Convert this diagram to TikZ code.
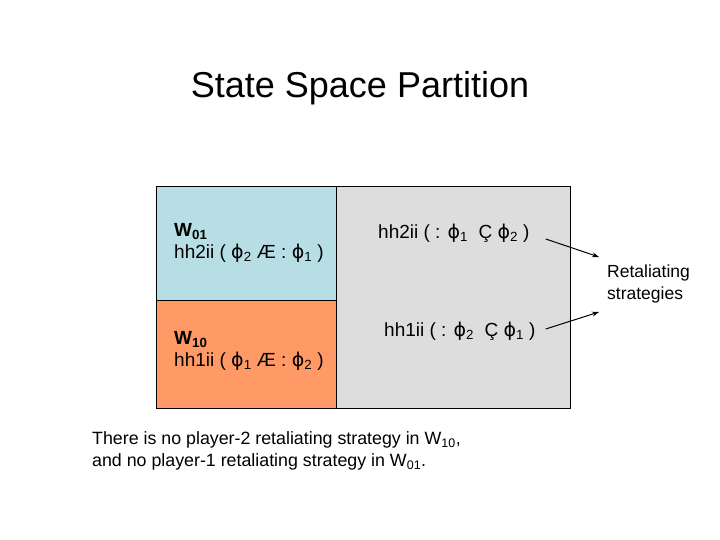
\documentclass[tikz,border=0pt]{standalone}
\usepackage{fontspec}
\setmainfont{Liberation Sans}
\newfontfamily\phifont{DejaVu Sans}
\usepackage{xcolor}
\usetikzlibrary{arrows.meta,positioning}
\definecolor{cellblue}{HTML}{B7DEE4}
\definecolor{cellorange}{HTML}{FF9966}
\definecolor{cellgray}{HTML}{DDDDDD}
\newcommand{\ph}[1]{{\phifont ϕ}\textsubscript{#1}}

\begin{document}
\begin{tikzpicture}[x=1pt,y=-1pt,
  cell/.style={draw, line width=0.8pt, anchor=north west, inner sep=0pt},
  label/.style={anchor=west, align=left, inner sep=0pt, font=\fontsize{19}{22}\selectfont},
  arrow/.style={-{Stealth[length=7pt,width=5pt]}, line width=1pt}
]
\useasboundingbox (0,0) rectangle (720,540);

\node (title) at (360,88) {\fontsize{36}{40}\selectfont State Space Partition};

% the partition
\node[cell, fill=cellgray, minimum width=234pt, minimum height=222pt] (right) at (336,186) {};
\node[cell, fill=cellblue, minimum width=180pt, minimum height=114pt] (w01) at (156,186) {};
\node[cell, fill=cellorange, minimum width=180pt, minimum height=108pt] (w10) at (156,300) {};

\node[label] (w01txt) at (174,243) {\textbf{W\textsubscript{01}}\\hh2ii ( \ph{2} Æ : \ph{1} )};
\node[label] (w10txt) at (174,351) {\textbf{W\textsubscript{10}}\\hh1ii ( \ph{1} Æ : \ph{2} )};
\node[label] (h2) at (378,233) {hh2ii ( : \ph{1}\ \ Ç \ph{2} )};
\node[label] (h1) at (384,331) {hh1ii ( : \ph{2}\ \ Ç \ph{1} )};

\node[label, font=\fontsize{17.5}{22}\selectfont] (ret) at (607,284) {Retaliating\\strategies};
\coordinate (tip2) at (599,257);
\coordinate (tip1) at (599,312);

\draw[arrow] ([xshift=16pt,yshift=-6pt]h2.east) -- (tip2);
\draw[arrow] ([xshift=10pt,yshift=2pt]h1.east) -- (tip1);

\node[label, font=\fontsize{17.8}{22}\selectfont] (note) at (92,451)
  {There is no player-2 retaliating strategy in W\textsubscript{10},\\and no player-1 retaliating strategy in W\textsubscript{01}.};
\end{tikzpicture}
\end{document}
